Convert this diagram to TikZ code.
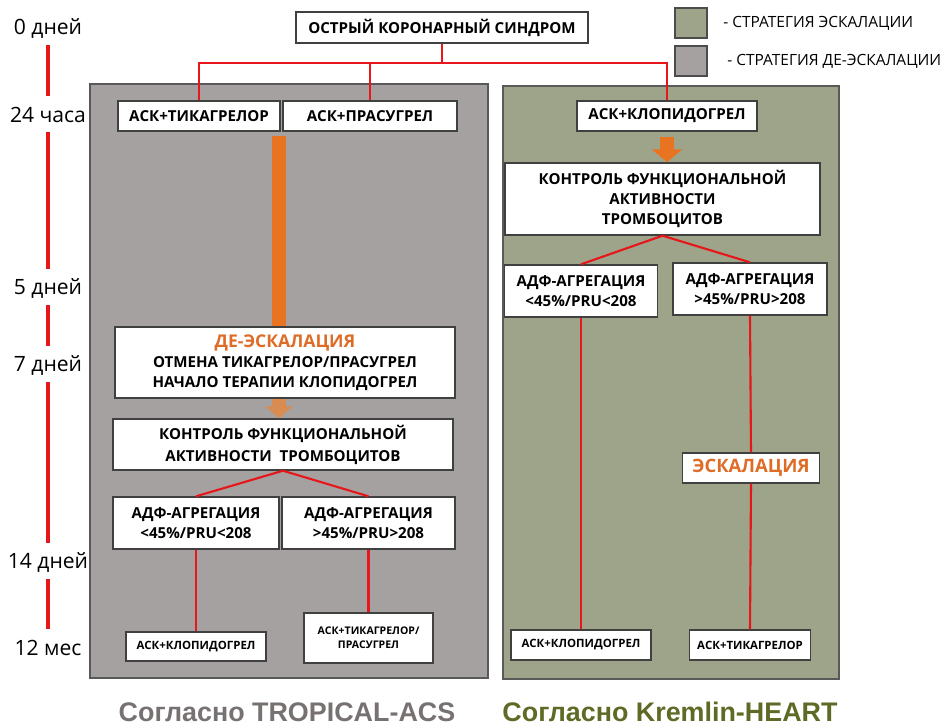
\documentclass[tikz,border=0pt]{standalone}
\usepackage{fontspec}
\setmainfont{Open Sans}
\newfontfamily\titlefont{Liberation Sans}
\usetikzlibrary{arrows.meta}

\definecolor{deescgray}{RGB}{166,161,161}
\definecolor{escgreen}{RGB}{157,164,137}
\definecolor{barorange}{RGB}{232,115,32}
\definecolor{paleorange}{RGB}{216,140,82}
\definecolor{linered}{RGB}{230,22,27}
\definecolor{titlegray}{RGB}{120,113,113}
\definecolor{titlegreen}{RGB}{94,107,38}
\definecolor{textorange}{RGB}{222,108,38}

\begin{document}
\begin{tikzpicture}[
    % Global styles (1 unit = 1 px of the layout)
    x=0.02cm, y=-0.02cm,
    box/.style={draw=black!75, fill=white, line width=0.8pt, inner sep=0pt, align=center,
        font=\bfseries\fontsize{8.6}{11.5}\selectfont},
    smallbox/.style={box, font=\bfseries\fontsize{6.5}{8}\selectfont},
    boxsize/.style 2 args={minimum width=#1*0.02cm, minimum height=#2*0.02cm},
    redline/.style={draw=linered, line width=1.2pt},
    timeline/.style={draw=linered, line width=1.8pt, shorten <=4pt, shorten >=5pt},
    daylabel/.style={font=\fontsize{12}{14}\selectfont, inner sep=0pt, minimum height=20*0.02cm},
    panel/.style={draw=black!65, line width=0.8pt},
    legsq/.style={draw=black!70, line width=0.8pt, minimum width=32*0.02cm, minimum height=30*0.02cm, inner sep=0pt},
    legtext/.style={anchor=west, inner sep=0pt, font=\fontsize{8.8}{10}\selectfont},
    title/.style={font=\titlefont\bfseries\fontsize{15.3}{17}\selectfont},
    ]
    \useasboundingbox (0,0) rectangle (947,727);

    % ===========================
    % TIME SCALE
    % ===========================
    \node[daylabel] (t0) at (48, 28) {0 дней};
    \node[daylabel] (t1) at (48, 115) {24 часа};
    \node[daylabel] (t2) at (48, 288) {5 дней};
    \node[daylabel] (t3) at (48, 365) {7 дней};
    \node[daylabel] (t4) at (48, 562) {14 дней};
    \node[daylabel] (t5) at (48, 648) {12 мес};

    \draw[timeline] (t0.south) -- (t1.north);
    \draw[timeline] (t1.south) -- (t2.north);
    \draw[timeline] (t2.south) -- (t3.north);
    \draw[timeline] (t3.south) -- (t4.north);
    \draw[timeline] (t4.south) -- (t5.north);

    % ===========================
    % PANELS AND LEGEND
    % ===========================
    \filldraw[panel, fill=deescgray] (90, 84) rectangle (488, 678);
    \filldraw[panel, fill=escgreen] (503, 86) rectangle (839, 679);

    \node[legsq, fill=escgreen] (lgreen) at (691, 23) {};
    \node[legsq, fill=deescgray] (lgray) at (691, 61) {};
    \node[legtext] at (723, 23) {- СТРАТЕГИЯ ЭСКАЛАЦИИ};
    \node[legtext] at (727, 61) {- СТРАТЕГИЯ ДЕ-ЭСКАЛАЦИИ};

    % ===========================
    % TOP
    % ===========================
    \node[box, boxsize={292}{31}] (acs) at (442, 27.5) {ОСТРЫЙ КОРОНАРНЫЙ СИНДРОМ};

    \node[box, boxsize={162}{30}] (tica) at (199, 116) {АСК+ТИКАГРЕЛОР};
    \node[box, boxsize={174}{30}] (pras) at (370, 116) {АСК+ПРАСУГРЕЛ};
    \node[box, boxsize={180}{30}] (clopi) at (667, 116) {АСК+КЛОПИДОГРЕЛ};

    \coordinate (fork) at (442, 63);
    \draw[redline] (acs.south) -- (fork);
    \draw[redline] (fork) -| (tica.north);
    \draw[redline] (fork) -| (pras.north);
    \draw[redline] (fork) -| (clopi.north);

    % ===========================
    % LEFT: TROPICAL-ACS
    % ===========================
    \node[box, boxsize={340}{71}] (desc) at (285, 362.5)
        {{\color{textorange}\fontsize{10}{12}\selectfont ДЕ-ЭСКАЛАЦИЯ}\\
         ОТМЕНА ТИКАГРЕЛОР/ПРАСУГРЕЛ\\НАЧАЛО ТЕРАПИИ КЛОПИДОГРЕЛ};
    \node[box, boxsize={340}{51}, font=\bfseries\fontsize{8.6}{12.5}\selectfont] (ctrlL) at (283, 444.5)
        {КОНТРОЛЬ ФУНКЦИОНАЛЬНОЙ\\АКТИВНОСТИ~~ТРОМБОЦИТОВ};
    \node[box, boxsize={166}{52}] (lowL) at (196, 523) {АДФ-АГРЕГАЦИЯ\\<45\%/PRU<208};
    \node[box, boxsize={173}{52}] (highL) at (368.5, 523) {АДФ-АГРЕГАЦИЯ\\>45\%/PRU>208};
    \node[smallbox, boxsize={140}{29}] (endLL) at (196, 646.5) {АСК+КЛОПИДОГРЕЛ};
    \node[smallbox, boxsize={129}{50}, font=\bfseries\fontsize{6}{8}\selectfont] (endLR) at (368.5, 638)
        {АСК+ТИКАГРЕЛОР/\\ПРАСУГРЕЛ};

    % orange bar and arrow
    \coordinate (barTop) at (279, 136);
    \draw[barorange, line width=7.6pt] (barTop) -- (desc.north -| barTop);
    \draw[paleorange, line width=7.6pt, -{Triangle[length=6.8pt, width=15.3pt]}]
        (desc.south -| barTop) -- (ctrlL.north -| barTop);

    \draw[redline] (ctrlL.south) -- (lowL.north);
    \draw[redline] (ctrlL.south) -- (highL.north);
    \draw[redline] (lowL.south) -- (endLL.north);
    \draw[redline] (highL.south) -- (endLR.north);

    % ===========================
    % RIGHT: Kremlin-HEART
    % ===========================
    \node[box, boxsize={315}{72}] (ctrlR) at (662.5, 199)
        {КОНТРОЛЬ ФУНКЦИОНАЛЬНОЙ\\АКТИВНОСТИ\\ТРОМБОЦИТОВ};
    \node[box, boxsize={153}{52}] (lowR) at (581, 291) {АДФ-АГРЕГАЦИЯ\\<45\%/PRU<208};
    \node[box, boxsize={154}{52}] (highR) at (750, 289) {АДФ-АГРЕГАЦИЯ\\>45\%/PRU>208};
    \node[box, boxsize={137}{30}, text=textorange, font=\bfseries\fontsize{10.5}{12}\selectfont] (esc) at (751, 468) {ЭСКАЛАЦИЯ};
    \node[smallbox, boxsize={140}{30}] (endRL) at (581, 645) {АСК+КЛОПИДОГРЕЛ};
    \node[smallbox, boxsize={121}{30}] (endRR) at (750, 645) {АСК+ТИКАГРЕЛОР};

    \draw[barorange, line width=8.5pt, shorten <=2.8pt, -{Triangle[length=7.4pt, width=17pt]}]
        (clopi.south) -- (ctrlR.north -| clopi.south);

    \draw[redline] (ctrlR.south) -- (lowR.north);
    \draw[redline] (ctrlR.south) -- (highR.north);
    \draw[redline] (lowR.south) -- (endRL.north);
    \draw[redline] (highR.south) -- (esc.north);
    \draw[redline] (esc.south) -- (endRR.north);

    % ===========================
    % TITLES
    % ===========================
    \node[title, text=titlegray] (titleL) at (287, 712) {Согласно TROPICAL-ACS};
    \node[title, text=titlegreen] (titleR) at (670, 712) {Согласно Kremlin-HEART};

\end{tikzpicture}
\end{document}
